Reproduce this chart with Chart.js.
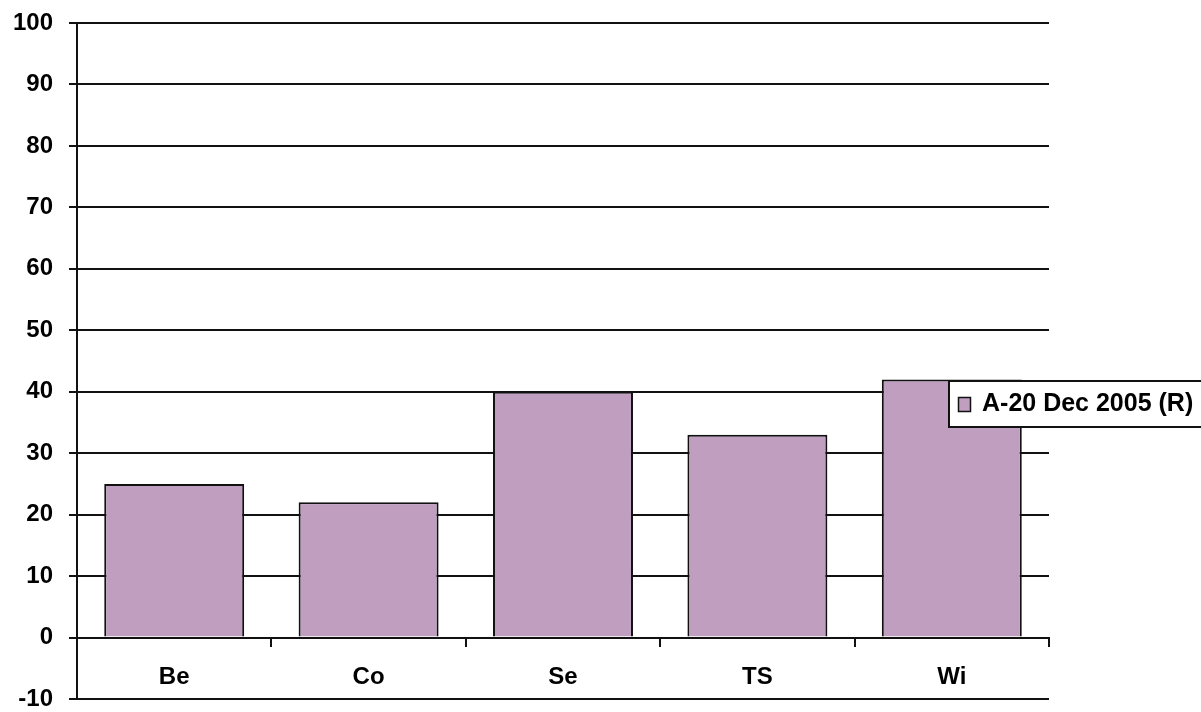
<!DOCTYPE html>
<html lang="en">

<head>
    <meta charset="UTF-8">
    <script src="https://cdn.jsdelivr.net/npm/chart.js"></script>
    <title>A-20 Dec 2005 (R)</title>
    <style>
        html, body { margin: 0; padding: 0; background: #fff; }
        .grafico { width: 1201px; height: 712px; }
    </style>
</head>

<body>
    <div class="grafico">
        <canvas id="MyChart"></canvas>
    </div>
</body>

</html>
<script>

    // dados
    var categorias = ['Be', 'Co', 'Se', 'TS', 'Wi'];
    var valores = [25, 22, 40, 33, 42];
    var nomeSerie = 'A-20 Dec 2005 (R)';
    var eixoMin = -10;
    var eixoMax = 100;
    var eixoPasso = 10;

    var corBarra = '#C09EC0';
    var corLinha = '#111';
    var fonte = { family: 'Arial, "Liberation Sans", sans-serif', size: 24, weight: 'bold' };

    // legenda desenhada por cima do grafico, como no original
    const legendaSobreposta = {
        id: 'legendaSobreposta',
        afterDraw(chart) {
            const ctx = chart.ctx;
            ctx.save();
            ctx.fillStyle = '#fff';
            ctx.strokeStyle = corLinha;
            ctx.lineWidth = 2;
            ctx.fillRect(949, 381, 260, 46);
            ctx.strokeRect(949, 381, 260, 46);

            ctx.fillStyle = corBarra;
            ctx.fillRect(958, 397, 13, 15);
            ctx.lineWidth = 1.5;
            ctx.strokeRect(958.5, 397.5, 12, 14);

            ctx.fillStyle = '#000';
            ctx.font = 'bold 25px Arial, "Liberation Sans", sans-serif';
            ctx.textBaseline = 'middle';
            ctx.textAlign = 'left';
            ctx.fillText(chart.data.datasets[0].label, 982, 404);
            ctx.restore();
        }
    };

    let dados = {
        labels: categorias,
        datasets: [{
            label: nomeSerie,
            data: valores,
            backgroundColor: corBarra,
            borderColor: corLinha,
            borderWidth: 2,
            categoryPercentage: 1,
            barPercentage: 0.72
        }]
    };

    const config = {
        type: 'bar',
        data: dados,
        options: {
            responsive: true,
            maintainAspectRatio: false,
            animation: false,
            layout: {
                padding: { left: 0, top: 23, right: 152, bottom: 13 }
            },
            plugins: {
                legend: { display: false },
                tooltip: { enabled: false }
            },
            scales: {
                x: {
                    position: { y: 0 },
                    grid: {
                        offset: true,
                        drawOnChartArea: false,
                        drawTicks: true,
                        tickLength: 8,
                        color: corLinha,
                        lineWidth: 2
                    },
                    border: { display: true, color: corLinha, width: 2 },
                    ticks: { color: '#000', font: fonte, padding: 17 }
                },
                y: {
                    min: eixoMin,
                    max: eixoMax,
                    ticks: { stepSize: eixoPasso, color: '#000', font: fonte, padding: 16 },
                    grid: { color: corLinha, lineWidth: 2, tickLength: 8 },
                    border: { display: true, color: corLinha, width: 2 },
                    afterFit(scale) {
                        scale.width = 77;
                        scale.paddingTop = 0;
                        scale.paddingBottom = 0;
                    }
                }
            }
        },
        plugins: [legendaSobreposta]
    };

    let MyChart = new Chart(
        document.getElementById('MyChart'),
        config
    );

</script>
